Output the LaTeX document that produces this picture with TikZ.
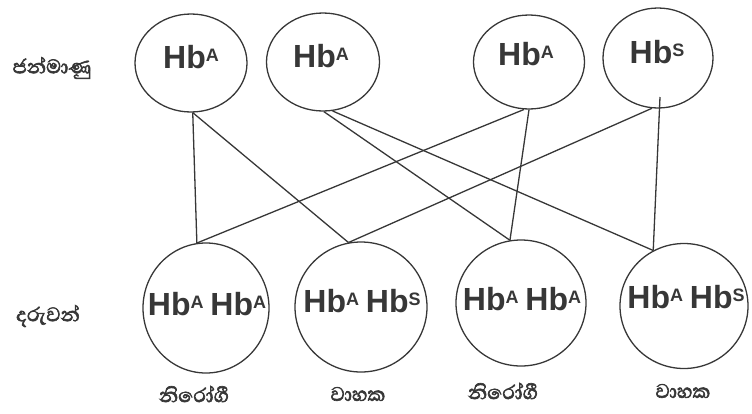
\documentclass[tikz,border=0pt]{standalone}
\usepackage{fontspec}
\setmainfont{Liberation Sans}
\newfontfamily\sinfont[Script=Sinhala,FakeBold=2.5]{Abhaya Libre}
\usetikzlibrary{shapes.geometric}
\definecolor{ink}{RGB}{55,55,55}
\newcommand\hbup[1]{\raisebox{6.5pt}{\fontsize{18}{18}\selectfont #1}}
\begin{document}
\begin{tikzpicture}[x=1pt,y=-1pt,
  ell/.style={ellipse,draw=ink,line width=1.3pt,inner sep=0pt},
  hb/.style={text=ink,font=\bfseries\fontsize{32}{34}\selectfont,inner sep=0pt,anchor=base},
  sin/.style={text=ink,font=\sinfont\fontsize{25}{27}\selectfont,inner sep=0pt},
  link/.style={draw=ink,line width=1.3pt}]
\useasboundingbox (0,0) rectangle (752,413);
% gametes
\node[ell,minimum width=112pt,minimum height=98pt] (T1) at (191,63) {};
\node[ell,minimum width=113pt,minimum height=98pt] (T2) at (323,62) {};
\node[ell,minimum width=111pt,minimum height=94pt] (T3) at (529,62) {};
\node[ell,minimum width=110pt,minimum height=100pt] (T4) at (658,58) {};
\node[hb] (T1t) at (191,68) {Hb\hbup{A}};
\node[hb] (T2t) at (321,67) {Hb\hbup{A}};
\node[hb] (T3t) at (526,65) {Hb\hbup{A}};
\node[hb] (T4t) at (657,63) {Hb\hbup{S}};
% children
\node[ell,minimum width=126pt,minimum height=130pt] (C1) at (206,308) {};
\node[ell,minimum width=132pt,minimum height=130pt] (C2) at (361,307) {};
\node[ell,minimum width=130pt,minimum height=126pt] (C3) at (521,303) {};
\node[ell,minimum width=128pt,minimum height=125pt] (C4) at (684,306) {};
\node[hb] (C1t) at (207,315) {Hb\hbup{A}\hspace{-2pt} Hb\hbup{A}};
\node[hb] (C2t) at (362,312) {Hb\hbup{A}\hspace{-2pt} Hb\hbup{S}};
\node[hb] (C3t) at (522,310) {Hb\hbup{A}\hspace{-2pt} Hb\hbup{A}};
\node[hb] (C4t) at (686,308) {Hb\hbup{A}\hspace{-2pt} Hb\hbup{S}};
% connectors
\coordinate (T4in) at (660,97);
\draw[link] (T1.272) -- (C1.98);
\draw[link] (T1.272) -- (C2.101);
\draw[link] (T2.271) -- (C3.100);
\draw[link] (T2.281) -- (C4.119);
\draw[link] (T3.264) -- (C1.98);
\draw[link] (T3.270) -- (C3.100);
\draw[link] (T4.263) -- (C2.101);
\draw[link] (T4in) -- (C4.119);
% labels
\node[sin] (Lg) at (52,68) {ජන්මාණු};
\node[sin] (Lc) at (48,316) {දරුවන්};
\node[sin] (B1) at (194,394) {නිරෝගී};
\node[sin] (B2) at (358,394) {වාහක};
\node[sin] (B3) at (503,391) {නිරෝගී};
\node[sin] (B4) at (683,391) {වාහක};
\end{tikzpicture}
\end{document}
